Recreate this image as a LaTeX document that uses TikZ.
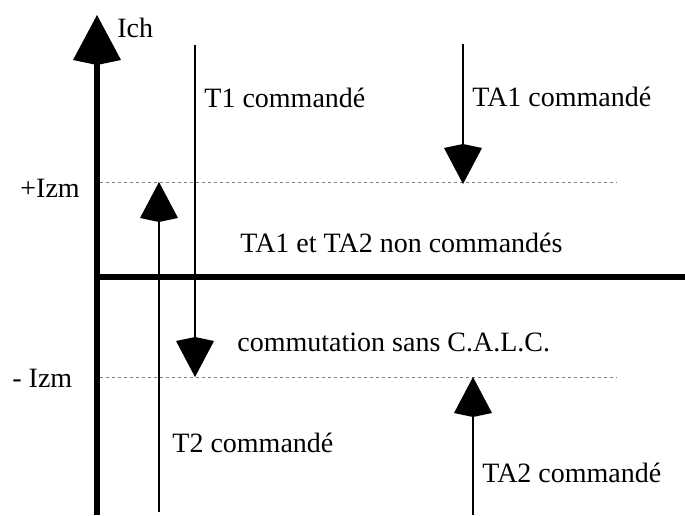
\documentclass[tikz,border=0pt]{standalone}
\usepackage{fontspec}
\setmainfont{Liberation Serif}
\usetikzlibrary{arrows.meta}

\begin{document}
\begin{tikzpicture}[x=0.5pt, y=-0.5pt,
    axis/.style={line width=3pt},
    axisarrow/.style={line width=3pt, -{Kite[length=25pt,width=24pt,inset=2.5pt]}},
    ctrl/.style={line width=1.2pt, -{Kite[length=20pt,width=19pt,inset=2pt]}},
    level/.style={line width=0.5pt, gray, dash pattern=on 1.5pt off 1.5pt},
    lbl/.style={anchor=west, inner sep=0pt, font=\fontsize{14}{16}\selectfont}]
        \useasboundingbox (0,0) rectangle (685,515);

        % Axes
        \coordinate (ybot) at (97,515);
        \coordinate (ytop) at (97,15);
        \coordinate (orig) at (97,277);
        \coordinate (xend) at (685,277);
        \draw [axisarrow] (ybot) -- (ytop);
        \draw [axis] (orig) -- (xend);
        \node [lbl] (ich) at (117,28) {Ich};

        % Levels
        \coordinate (pizl) at (100,182);
        \coordinate (pizr) at (617,182);
        \coordinate (mizl) at (100,377);
        \coordinate (mizr) at (617,377);
        \draw [level] (pizl) -- (pizr);
        \draw [level] (mizl) -- (mizr);
        \node [lbl] (pizm) at (20,188) {+Izm};
        \node [lbl] (mizm) at (12,378) {- Izm};

        % Commands
        \coordinate (tia) at (195,45);
        \coordinate (tib) at (195,377);
        \coordinate (tiia) at (159,512);
        \coordinate (tiib) at (159,182);
        \coordinate (taia) at (463,44);
        \coordinate (taib) at (463,184);
        \coordinate (taiia) at (473,515);
        \coordinate (taiib) at (473,377);
        \draw [ctrl] (tia) -- (tib);
        \draw [ctrl] (tiia) -- (tiib);
        \draw [ctrl] (taia) -- (taib);
        \draw [ctrl] (taiia) -- (taiib);

        % Texts
        \node [lbl] (tilbl) at (204,98) {T1 commandé};
        \node [lbl] (tailbl) at (472,97) {TA1 commandé};
        \node [lbl] (nonlbl) at (240,243) {TA1 et TA2 non commandés};
        \node [lbl] (comlbl) at (237,342) {commutation sans C.A.L.C.};
        \node [lbl] (tiilbl) at (172,443) {T2 commandé};
        \node [lbl] (taiilbl) at (482,473) {TA2 commandé};
      \end{tikzpicture}
\end{document}
